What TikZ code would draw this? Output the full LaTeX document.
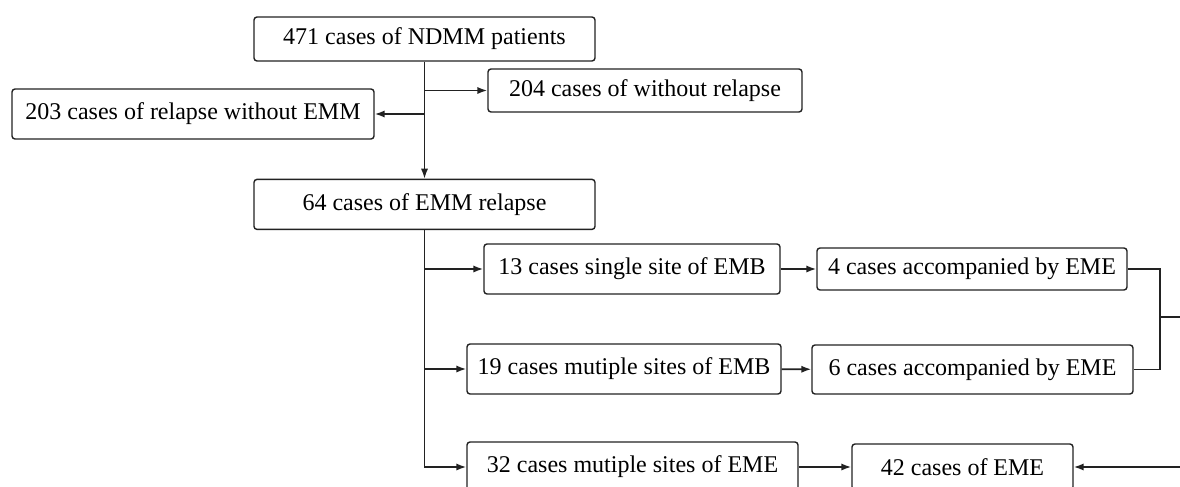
\documentclass[tikz,border=0pt]{standalone}
\usepackage{fontspec}
\setmainfont{Liberation Serif}
\usepackage{tikz}
\usetikzlibrary{positioning,arrows.meta}
\definecolor{flowLine}{HTML}{222222}

\begin{document}
\begin{tikzpicture}[x=0.5pt, y=-0.5pt, >={Latex[length=5pt,width=3.6pt]},
  every node/.style={rectangle, rounded corners=1.5pt, draw=flowLine, line width=0.7pt, fill=white, text=black, font=\fontsize{12}{14}\selectfont, inner sep=0pt, minimum height=25pt},
  link/.style={line width=0.8pt, flowLine}]
\useasboundingbox (0,0) rectangle (1180,487);
\clip (0,0) rectangle (1180,487);
\node (ndmm) at (424.5,39) [minimum width=170.5pt, minimum height=22pt] {471 cases of NDMM patients};
\node (emm) [below=58.5pt of ndmm, minimum width=170.5pt] {64 cases of EMM relapse};
\node (norelapse) at (645,90.5) [minimum width=157pt, minimum height=21.5pt] {204 cases of without relapse};
\node (relnoemm) at (193,114) [minimum width=181pt] {203 cases of relapse without EMM};
\node (single) at (632,269) [minimum width=148pt] {13 cases single site of EMB};
\node (singleeme) at (972,269) [minimum width=155pt, minimum height=21pt] {4 cases accompanied by EME};
\node (multi) at (624,369) [minimum width=157pt] {19 cases mutiple sites of EMB};
\node (multieme) at (972.5,369.5) [minimum width=160.5pt, minimum height=24.5pt] {6 cases accompanied by EME};
\node (multisite) at (632.5,467) [minimum width=165.5pt] {32 cases mutiple sites of EME};
\node (eme) at (962.5,467) [minimum width=110.5pt, minimum height=23pt] {42 cases of EME};
\coordinate (join) at (1160,317);
% first split
\draw[->, link] (ndmm) -- (emm);
\draw[->, link] (ndmm.south |- norelapse.west) -- (norelapse.west);
\draw[->, link] (ndmm.south |- relnoemm.east) -- (relnoemm.east);
% EMM relapse split
\draw[->, link] (emm.south) |- (multisite.west);
\draw[->, link] (emm.south |- single.west) -- (single.west);
\draw[->, link] (emm.south |- multi.west) -- (multi.west);
\draw[->, link] (single) -- (singleeme);
\draw[->, link] (multi) -- (multieme);
\draw[->, link] (multisite) -- (eme);
% EME join, runs off the right edge
\draw[link] (singleeme.east) -| (join) |- (multieme.east);
\draw[->, link] (join) -- ++(40,0) |- (eme.east);
\end{tikzpicture}
\end{document}
